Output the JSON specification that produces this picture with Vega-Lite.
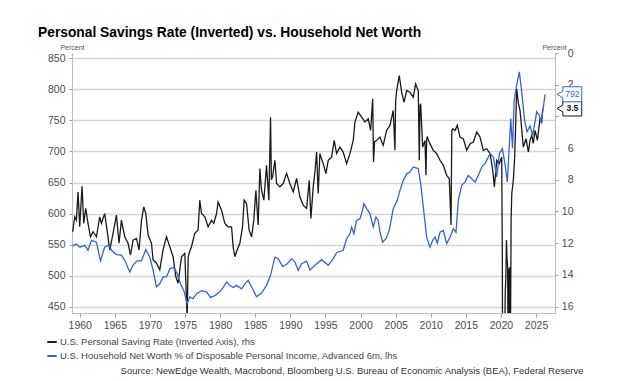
{
  "$schema": "https://vega.github.io/schema/vega-lite/v6.json",
  "width": 483,
  "height": 260,
  "autosize": {"type": "none"},
  "padding": {"left": 72, "top": 53, "right": 69, "bottom": 68},
  "background": "white",
  "config": {
    "font": "Liberation Sans",
    "view": {"stroke": null},
    "axisX": {
      "format": "d", "grid": false, "tickSize": 4, "tickColor": "#999", "domainColor": "#bdbdbd",
      "labelFontSize": 10.5, "labelColor": "#4d4d4d", "labelPadding": 3, "labelOverlap": false,
      "titleX": 511, "titleY": 60.5, "titleAlign": "right", "titleBaseline": "alphabetic",
      "titleFontSize": 9.5, "titleFontWeight": "normal", "titleColor": "#333"
    },
    "legend": {
      "orient": "none", "legendX": -26, "legendY": 283, "direction": "vertical",
      "symbolType": "stroke", "symbolSize": 90, "symbolStrokeWidth": 2,
      "labelFontSize": 9.5, "labelColor": "#444", "labelOffset": 2, "rowPadding": 3,
      "labelLimit": 0, "padding": 0
    }
  },
  "title": {
    "text": "Personal Savings Rate (Inverted) vs. Household Net Worth",
    "anchor": "start", "frame": "group", "dx": -34, "offset": 3,
    "fontSize": 13.8, "fontWeight": "bold", "color": "#000", "font": "Liberation Sans"
  },
  "datasets": {
    "psr": [
      {"t":1959.0,"v":11.28},{"t":1959.29,"v":10.34},{"t":1959.53,"v":10.55},{"t":1959.76,"v":8.77},{"t":1960.0,"v":10.97},{"t":1960.33,"v":8.41},{"t":1960.57,"v":10.75},{"t":1960.86,"v":9.81},{"t":1961.18,"v":10.75},{"t":1961.53,"v":11.6},{"t":1961.9,"v":11.28},{"t":1962.38,"v":11.6},{"t":1962.85,"v":10.34},{"t":1963.09,"v":10.75},{"t":1963.56,"v":10.13},{"t":1963.89,"v":11.18},{"t":1964.28,"v":12.43},{"t":1964.75,"v":11.38},{"t":1965.23,"v":10.23},{"t":1965.6,"v":12.01},{"t":1965.94,"v":10.55},{"t":1966.41,"v":11.6},{"t":1966.89,"v":12.01},{"t":1967.23,"v":12.75},{"t":1967.6,"v":11.81},{"t":1968.08,"v":11.7},{"t":1968.45,"v":12.43},{"t":1968.8,"v":10.55},{"t":1969.12,"v":9.71},{"t":1969.41,"v":10.13},{"t":1969.74,"v":11.49},{"t":1970.22,"v":12.01},{"t":1970.45,"v":13.06},{"t":1970.93,"v":13.27},{"t":1971.4,"v":13.69},{"t":1971.87,"v":12.43},{"t":1972.36,"v":11.6},{"t":1972.83,"v":12.23},{"t":1973.3,"v":12.86},{"t":1973.68,"v":14.11},{"t":1974.01,"v":14.53},{"t":1974.5,"v":12.86},{"t":1974.97,"v":12.64},{"t":1975.3,"v":16.8},{"t":1975.45,"v":12.9},{"t":1975.58,"v":12.64},{"t":1975.92,"v":12.23},{"t":1976.39,"v":11.38},{"t":1976.86,"v":11.18},{"t":1977.1,"v":9.29},{"t":1977.35,"v":10.13},{"t":1977.82,"v":10.34},{"t":1978.29,"v":10.97},{"t":1978.77,"v":10.55},{"t":1979.1,"v":10.75},{"t":1979.49,"v":10.13},{"t":1979.71,"v":9.4},{"t":1980.2,"v":9.92},{"t":1980.67,"v":10.75},{"t":1981.14,"v":10.97},{"t":1981.63,"v":10.97},{"t":1981.85,"v":12.23},{"t":1982.1,"v":12.86},{"t":1982.42,"v":12.43},{"t":1982.81,"v":12.01},{"t":1983.19,"v":10.97},{"t":1983.42,"v":9.29},{"t":1983.76,"v":9.5},{"t":1984.13,"v":11.18},{"t":1984.48,"v":11.6},{"t":1984.8,"v":10.55},{"t":1985.09,"v":8.66},{"t":1985.42,"v":10.86},{"t":1985.66,"v":7.3},{"t":1985.9,"v":8.66},{"t":1986.23,"v":9.29},{"t":1986.61,"v":7.09},{"t":1986.94,"v":9.29},{"t":1987.18,"v":4.05},{"t":1987.3,"v":8.0},{"t":1987.47,"v":7.82},{"t":1987.8,"v":6.77},{"t":1988.04,"v":8.24},{"t":1988.51,"v":8.45},{"t":1988.98,"v":8.24},{"t":1989.47,"v":7.61},{"t":1989.94,"v":8.24},{"t":1990.41,"v":8.77},{"t":1990.89,"v":7.92},{"t":1991.36,"v":9.08},{"t":1991.83,"v":9.6},{"t":1992.32,"v":9.81},{"t":1992.69,"v":8.03},{"t":1992.93,"v":10.44},{"t":1993.26,"v":8.45},{"t":1993.5,"v":7.51},{"t":1993.74,"v":6.25},{"t":1993.97,"v":8.87},{"t":1994.21,"v":6.35},{"t":1994.68,"v":6.98},{"t":1995.07,"v":7.61},{"t":1995.4,"v":6.77},{"t":1995.88,"v":6.57},{"t":1996.25,"v":5.52},{"t":1996.59,"v":6.35},{"t":1997.06,"v":5.94},{"t":1997.53,"v":6.25},{"t":1998.02,"v":6.98},{"t":1998.49,"v":6.35},{"t":1998.96,"v":5.52},{"t":1999.2,"v":4.36},{"t":1999.67,"v":3.74},{"t":2000.16,"v":4.05},{"t":2000.63,"v":4.36},{"t":2001.1,"v":4.15},{"t":2001.44,"v":4.89},{"t":2001.73,"v":2.89},{"t":2001.85,"v":6.88},{"t":2002.0,"v":5.6},{"t":2002.28,"v":5.52},{"t":2002.76,"v":5.31},{"t":2003.23,"v":5.83},{"t":2003.71,"v":4.89},{"t":2004.19,"v":4.57},{"t":2004.66,"v":3.63},{"t":2004.9,"v":6.14},{"t":2005.0,"v":3.0},{"t":2005.15,"v":2.37},{"t":2005.52,"v":1.43},{"t":2005.86,"v":2.48},{"t":2006.19,"v":3.11},{"t":2006.57,"v":2.37},{"t":2007.04,"v":2.48},{"t":2007.51,"v":2.79},{"t":2007.85,"v":1.95},{"t":2008.22,"v":2.37},{"t":2008.37,"v":6.77},{"t":2008.47,"v":3.3},{"t":2008.57,"v":3.21},{"t":2008.85,"v":5.94},{"t":2009.18,"v":5.52},{"t":2009.32,"v":7.72},{"t":2009.42,"v":5.4},{"t":2009.51,"v":5.31},{"t":2009.89,"v":5.72},{"t":2010.36,"v":6.14},{"t":2010.85,"v":6.35},{"t":2011.32,"v":6.77},{"t":2011.79,"v":7.09},{"t":2012.27,"v":7.72},{"t":2012.64,"v":7.92},{"t":2012.89,"v":10.86},{"t":2013.0,"v":4.9},{"t":2013.13,"v":4.78},{"t":2013.46,"v":4.89},{"t":2013.78,"v":4.57},{"t":2014.17,"v":5.31},{"t":2014.64,"v":5.41},{"t":2015.12,"v":6.14},{"t":2015.6,"v":5.72},{"t":2016.07,"v":5.62},{"t":2016.55,"v":4.99},{"t":2017.02,"v":5.31},{"t":2017.49,"v":6.14},{"t":2017.98,"v":6.04},{"t":2018.45,"v":6.35},{"t":2018.83,"v":7.4},{"t":2019.06,"v":8.45},{"t":2019.4,"v":6.77},{"t":2019.77,"v":6.98},{"t":2020.11,"v":6.57},{"t":2020.2,"v":13.0},{"t":2020.28,"v":32},{"t":2020.37,"v":24},{"t":2020.45,"v":19.3},{"t":2020.53,"v":18},{"t":2020.62,"v":15},{"t":2020.7,"v":14.2},{"t":2020.78,"v":11.8},{"t":2020.87,"v":13},{"t":2020.95,"v":13.4},{"t":2021.03,"v":19.6},{"t":2021.12,"v":13.6},{"t":2021.2,"v":26},{"t":2021.28,"v":13.5},{"t":2021.37,"v":17},{"t":2021.45,"v":10.5},{"t":2021.54,"v":8.9},{"t":2021.77,"v":8.0},{"t":2021.95,"v":6.6},{"t":2022.1,"v":4.5},{"t":2022.24,"v":2.26},{"t":2022.5,"v":3.2},{"t":2022.72,"v":3.63},{"t":2023.19,"v":5.94},{"t":2023.58,"v":5.41},{"t":2023.91,"v":6.25},{"t":2024.15,"v":5.5},{"t":2024.39,"v":5.2},{"t":2024.6,"v":5.7},{"t":2024.86,"v":4.89},{"t":2025.19,"v":5.52},{"t":2025.57,"v":4.15},{"t":2025.81,"v":4.36},{"t":2025.96,"v":3.5}
    ],
    "nw": [
      {"t":1958.96,"v":548},{"t":1959.53,"v":551},{"t":1960.0,"v":546},{"t":1960.71,"v":549},{"t":1961.18,"v":541},{"t":1961.67,"v":557},{"t":1962.38,"v":554},{"t":1962.95,"v":524},{"t":1963.56,"v":546},{"t":1964.18,"v":550},{"t":1964.52,"v":541},{"t":1965.23,"v":534},{"t":1965.94,"v":533},{"t":1966.41,"v":525},{"t":1967.13,"v":506},{"t":1967.6,"v":517},{"t":1968.17,"v":524},{"t":1968.8,"v":524},{"t":1969.41,"v":542},{"t":1969.98,"v":530},{"t":1970.45,"v":509},{"t":1970.93,"v":482},{"t":1971.4,"v":487},{"t":1971.87,"v":498},{"t":1972.36,"v":498},{"t":1972.83,"v":511},{"t":1973.4,"v":513},{"t":1973.87,"v":504},{"t":1974.35,"v":487},{"t":1974.83,"v":476},{"t":1975.3,"v":455},{"t":1975.68,"v":466},{"t":1976.15,"v":463},{"t":1976.64,"v":471},{"t":1977.35,"v":476},{"t":1978.06,"v":474},{"t":1978.63,"v":465},{"t":1979.24,"v":468},{"t":1979.96,"v":474},{"t":1980.43,"v":481},{"t":1980.91,"v":490},{"t":1981.38,"v":484.5},{"t":1981.85,"v":481},{"t":1982.34,"v":484.5},{"t":1983.05,"v":479},{"t":1983.52,"v":487},{"t":1983.99,"v":492.5},{"t":1984.62,"v":479},{"t":1985.19,"v":466},{"t":1985.9,"v":472},{"t":1986.61,"v":484.5},{"t":1987.18,"v":500.6},{"t":1987.8,"v":530},{"t":1988.27,"v":527.5},{"t":1988.9,"v":515},{"t":1989.47,"v":518},{"t":1990.18,"v":527.5},{"t":1990.65,"v":522},{"t":1991.12,"v":508.6},{"t":1991.6,"v":519.4},{"t":1992.32,"v":523.6},{"t":1992.79,"v":509},{"t":1993.5,"v":516.7},{"t":1994.46,"v":525.8},{"t":1995.4,"v":516.7},{"t":1996.11,"v":527.5},{"t":1996.59,"v":537},{"t":1997.53,"v":541},{"t":1998.02,"v":559.6},{"t":1998.49,"v":567.6},{"t":1998.73,"v":578.4},{"t":1999.06,"v":567.6},{"t":1999.44,"v":589},{"t":1999.91,"v":591.8},{"t":2000.16,"v":600},{"t":2000.48,"v":616},{"t":2000.87,"v":608},{"t":2001.34,"v":600},{"t":2001.81,"v":578.4},{"t":2002.2,"v":594.5},{"t":2002.52,"v":589},{"t":2002.77,"v":570},{"t":2003.15,"v":554},{"t":2003.62,"v":559.6},{"t":2004.09,"v":573},{"t":2004.66,"v":608},{"t":2005.23,"v":621.3},{"t":2005.62,"v":637.4},{"t":2006.09,"v":653.5},{"t":2006.57,"v":664},{"t":2007.04,"v":667},{"t":2007.51,"v":675},{"t":2008.22,"v":672.4},{"t":2008.57,"v":648},{"t":2008.94,"v":610.6},{"t":2009.42,"v":562},{"t":2009.89,"v":546},{"t":2010.28,"v":557},{"t":2010.61,"v":562},{"t":2010.93,"v":552.6},{"t":2011.32,"v":570},{"t":2011.79,"v":573},{"t":2012.27,"v":551.6},{"t":2012.74,"v":562},{"t":2013.21,"v":575.7},{"t":2013.6,"v":570},{"t":2013.93,"v":621.3},{"t":2014.41,"v":645.5},{"t":2014.88,"v":650.7},{"t":2015.35,"v":661.5},{"t":2015.84,"v":656},{"t":2016.31,"v":650.7},{"t":2016.78,"v":661.5},{"t":2017.26,"v":675},{"t":2017.73,"v":680.4},{"t":2018.45,"v":696.5},{"t":2018.92,"v":691},{"t":2019.4,"v":659},{"t":2019.77,"v":696.5},{"t":2020.2,"v":704.6},{"t":2020.58,"v":680},{"t":2020.91,"v":651},{"t":2021.4,"v":753},{"t":2021.65,"v":705},{"t":2021.87,"v":780},{"t":2022.22,"v":806},{"t":2022.62,"v":828},{"t":2022.96,"v":796},{"t":2023.36,"v":751},{"t":2023.72,"v":732},{"t":2024.15,"v":741},{"t":2024.53,"v":726},{"t":2025.1,"v":764},{"t":2025.48,"v":758},{"t":2025.72,"v":746},{"t":2026.29,"v":792}
    ]
  },
  "layer": [
    {
      "data": {"name": "psr"},
      "mark": {"type": "line", "clip": true, "strokeWidth": 1.3, "interpolate": "linear"},
      "encoding": {
        "x": {"field": "t", "type": "quantitative",
          "scale": {"domain": [1958.9, 2027.7], "nice": false, "zero": false},
          "title": "Source: NewEdge Wealth, Macrobond, Bloomberg U.S. Bureau of Economic Analysis (BEA), Federal Reserve",
          "axis": {"values": [1960,1965,1970,1975,1980,1985,1990,1995,2000,2005,2010,2015,2020,2025]}},
        "y": {"field": "v", "type": "quantitative",
          "scale": {"domain": [0, 16.41], "reverse": true, "nice": false, "zero": false},
          "axis": {"orient": "right", "values": [0,2,4,6,8,10,12,14,16], "grid": false,
            "labelExpr": "datum.value == 4 ? '' : datum.label",
            "tickSize": 3, "tickColor": "#999", "domainColor": "#bdbdbd",
            "labelFontSize": 10.5, "labelColor": "#4d4d4d", "labelAlign": "right", "labelPadding": 15,
            "title": "Percent", "titleAngle": 0, "titleX": -1, "titleY": -3, "titleAlign": "center",
            "titleBaseline": "bottom", "titleFontSize": 7, "titleFontWeight": "normal", "titleColor": "#555"}},
        "color": {"datum": "U.S. Personal Saving Rate (Inverted Axis), rhs", "type": "nominal",
          "scale": {"domain": ["U.S. Personal Saving Rate (Inverted Axis), rhs", "U.S. Household Net Worth % of Disposable Personal Income, Advanced 6m, lhs"],
            "range": ["#1a1a1a", "#3264d8"]}}
      }
    },
    {
      "data": {"name": "nw"},
      "mark": {"type": "line", "clip": true, "strokeWidth": 1.3, "interpolate": "linear"},
      "encoding": {
        "x": {"field": "t", "type": "quantitative",
          "title": "Source: NewEdge Wealth, Macrobond, Bloomberg U.S. Bureau of Economic Analysis (BEA), Federal Reserve",
          "axis": {"values": [1960,1965,1970,1975,1980,1985,1990,1995,2000,2005,2010,2015,2020,2025]}},
        "y": {"field": "v", "type": "quantitative",
          "scale": {"domain": [440, 858.5], "nice": false, "zero": false},
          "axis": {"orient": "left", "values": [450,500,550,600,650,700,750,800,850], "grid": true,
            "gridColor": "#d6d6d6", "gridWidth": 1.5,
            "tickSize": 3, "tickColor": "#999", "domainColor": "#bdbdbd",
            "labelFontSize": 10.5, "labelColor": "#4d4d4d", "labelPadding": 4,
            "title": "Percent", "titleAngle": 0, "titleX": 0, "titleY": -3, "titleAlign": "center",
            "titleBaseline": "bottom", "titleFontSize": 7, "titleFontWeight": "normal", "titleColor": "#555"}},
        "color": {"datum": "U.S. Household Net Worth % of Disposable Personal Income, Advanced 6m, lhs", "type": "nominal"}
      }
    },
    {
      "data": {"name": "psr"},
      "transform": [{"filter": "datum.t > 2025.9"}],
      "mark": {"type": "point", "shape": "M-0.53,-0.61L1,-0.61L1,0.61L-0.53,0.61L-0.53,0.27L-1,0L-0.53,-0.27Z",
        "size": 610, "fill": "white", "stroke": "#1a1a1a", "strokeWidth": 1, "opacity": 1},
      "encoding": {
        "x": {"datum": 2029.75, "type": "quantitative",
          "title": "Source: NewEdge Wealth, Macrobond, Bloomberg U.S. Bureau of Economic Analysis (BEA), Federal Reserve",
          "axis": {"values": [1960,1965,1970,1975,1980,1985,1990,1995,2000,2005,2010,2015,2020,2025]}},
        "y": {"field": "v", "type": "quantitative", "axis": null,
          "scale": {"domain": [0, 16.41], "reverse": true, "nice": false, "zero": false}}
      }
    },
    {
      "data": {"name": "psr"},
      "transform": [{"filter": "datum.t > 2025.9"}],
      "mark": {"type": "text", "fontSize": 8.5, "fontWeight": "bold", "color": "#111", "dx": 3, "align": "center", "baseline": "middle"},
      "encoding": {
        "x": {"datum": 2029.75, "type": "quantitative",
          "title": "Source: NewEdge Wealth, Macrobond, Bloomberg U.S. Bureau of Economic Analysis (BEA), Federal Reserve",
          "axis": {"values": [1960,1965,1970,1975,1980,1985,1990,1995,2000,2005,2010,2015,2020,2025]}},
        "y": {"field": "v", "type": "quantitative", "axis": null,
          "scale": {"domain": [0, 16.41], "reverse": true, "nice": false, "zero": false}},
        "text": {"field": "v", "type": "quantitative", "format": ".1f"}
      }
    },
    {
      "data": {"name": "nw"},
      "transform": [{"filter": "datum.t > 2026"}],
      "mark": {"type": "point", "shape": "M-0.53,-0.61L1,-0.61L1,0.61L-0.53,0.61L-0.53,0.27L-1,0L-0.53,-0.27Z",
        "size": 610, "fill": "white", "stroke": "#3264d8", "strokeWidth": 1, "opacity": 1},
      "encoding": {
        "x": {"datum": 2029.75, "type": "quantitative",
          "title": "Source: NewEdge Wealth, Macrobond, Bloomberg U.S. Bureau of Economic Analysis (BEA), Federal Reserve",
          "axis": {"values": [1960,1965,1970,1975,1980,1985,1990,1995,2000,2005,2010,2015,2020,2025]}},
        "y": {"field": "v", "type": "quantitative", "axis": null,
          "scale": {"domain": [440, 858.5], "nice": false, "zero": false}}
      }
    },
    {
      "data": {"name": "nw"},
      "transform": [{"filter": "datum.t > 2026"}],
      "mark": {"type": "text", "fontSize": 8.5, "color": "#3264d8", "dx": 3, "align": "center", "baseline": "middle"},
      "encoding": {
        "x": {"datum": 2029.75, "type": "quantitative",
          "title": "Source: NewEdge Wealth, Macrobond, Bloomberg U.S. Bureau of Economic Analysis (BEA), Federal Reserve",
          "axis": {"values": [1960,1965,1970,1975,1980,1985,1990,1995,2000,2005,2010,2015,2020,2025]}},
        "y": {"field": "v", "type": "quantitative", "axis": null,
          "scale": {"domain": [440, 858.5], "nice": false, "zero": false}},
        "text": {"field": "v", "type": "quantitative", "format": "d"}
      }
    }
  ],
  "resolve": {"scale": {"y": "independent"}, "axis": {"y": "independent"}}
}
